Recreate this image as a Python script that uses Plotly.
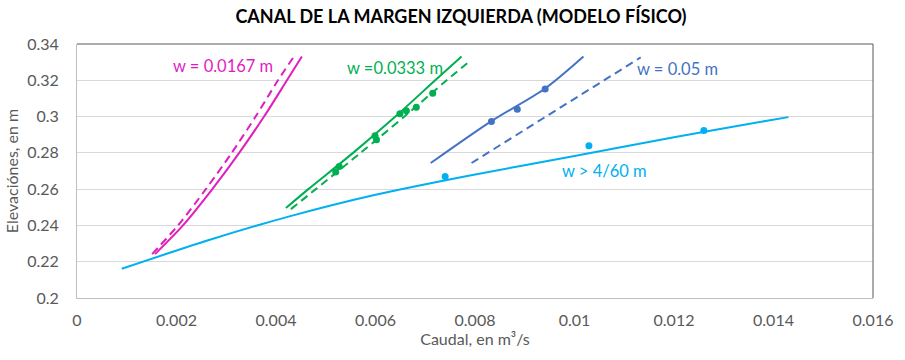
import plotly.graph_objects as go

# ---- data ----
# w = 0.0167 m (magenta)
q_0167_solid = [0.00157, 0.00213, 0.00272, 0.00326, 0.00376, 0.00422, 0.00452]
h_0167_solid = [0.2242, 0.24, 0.26, 0.28, 0.30, 0.32, 0.3331]
q_0167_dash = [0.00151, 0.00203, 0.00259, 0.00311, 0.00359, 0.00404, 0.00436]
h_0167_dash = [0.2242, 0.24, 0.26, 0.28, 0.30, 0.32, 0.3331]

# w = 0.0333 m (green)
q_0333_solid = [0.00420, 0.00465, 0.00555, 0.00640, 0.00720, 0.00773]
h_0333_solid = [0.2496, 0.26, 0.28, 0.30, 0.32, 0.3331]
q_0333_dash = [0.00430, 0.00480, 0.00570, 0.00658, 0.00743, 0.00791]
h_0333_dash = [0.2490, 0.26, 0.28, 0.30, 0.32, 0.3309]
q_0333_pts = [0.00527, 0.00520, 0.00599, 0.00602, 0.00649, 0.00662, 0.00682, 0.00715]
h_0333_pts = [0.2725, 0.2694, 0.2894, 0.2872, 0.3015, 0.3032, 0.3052, 0.3129]

# w = 0.05 m (blue)
q_05_solid = [0.00711, 0.00833, 0.00941, 0.01018]
h_05_solid = [0.2744, 0.2975, 0.3155, 0.3331]
q_05_dash = [0.00793, 0.01133]
h_05_dash = [0.2744, 0.3326]
q_05_pts = [0.00833, 0.00885, 0.00941]
h_05_pts = [0.2973, 0.3041, 0.3152]

# w > 4/60 m (light blue)
q_460_line = [0.00090, 0.00267, 0.00427, 0.00600, 0.00787, 0.01000, 0.01200, 0.01387, 0.01430]
h_460_line = [0.2161, 0.2321, 0.2450, 0.2569, 0.2674, 0.2783, 0.2886, 0.2977, 0.2997]
q_460_pts = [0.00740, 0.01029, 0.01260]
h_460_pts = [0.2670, 0.2839, 0.2923]

x_tickvals = [0, 0.002, 0.004, 0.006, 0.008, 0.010, 0.012, 0.014, 0.016]
x_ticktext = ["0", "0.002", "0.004", "0.006", "0.008", "0.01", "0.012", "0.014", "0.016"]
y_tickvals = [0.20, 0.22, 0.24, 0.26, 0.28, 0.30, 0.32, 0.34]
y_ticktext = ["0.2", "0.22", "0.24", "0.26", "0.28", "0.3", "0.32", "0.34"]

labels = ["w = 0.0167 m", "w =0.0333 m", "w = 0.05 m", "w > 4/60 m"]
label_x = [0.00293, 0.00639, 0.01208, 0.01061]
label_y = [0.3280, 0.3269, 0.3264, 0.2698]

MAG = "#E01EBF"
GRN = "#00B050"
BLU = "#4472C4"
CYN = "#00B0F0"
colors = [MAG, GRN, BLU, CYN]

FONT = "Lato, 'Open Sans', sans-serif"
DASH = "8px,5px"

fig = go.Figure()


def line(x, y, color, dash=None, shape="spline"):
    fig.add_trace(go.Scatter(x=x, y=y, mode="lines",
                             line=dict(color=color, width=2, dash=dash, shape=shape, smoothing=0.8),
                             showlegend=False, hoverinfo="skip"))


def pts(x, y, color):
    fig.add_trace(go.Scatter(x=x, y=y, mode="markers", marker=dict(color=color, size=7),
                             showlegend=False, hoverinfo="skip"))


line(q_460_line, h_460_line, CYN)
pts(q_460_pts, h_460_pts, CYN)
line(q_0167_solid, h_0167_solid, MAG)
line(q_0167_dash, h_0167_dash, MAG, DASH)
line(q_0333_solid, h_0333_solid, GRN)
line(q_0333_dash, h_0333_dash, GRN, DASH)
pts(q_0333_pts, h_0333_pts, GRN)
line(q_05_solid, h_05_solid, BLU)
line(q_05_dash, h_05_dash, BLU, DASH, "linear")
pts(q_05_pts, h_05_pts, BLU)

for t, x, y, c in zip(labels, label_x, label_y, colors):
    fig.add_annotation(x=x, y=y, text=t, showarrow=False, xanchor="center", yanchor="middle",
                       font=dict(family=FONT, size=16.5, color=c))

# plot-area border (top / right)
fig.add_shape(type="line", xref="x domain", yref="y domain", x0=0, x1=1, y0=1, y1=1,
              line=dict(color="#595959", width=1))
fig.add_shape(type="line", xref="x domain", yref="y domain", x0=1, x1=1, y0=0, y1=1,
              line=dict(color="#595959", width=1))

fig.update_layout(
    width=905, height=360,
    margin=dict(l=77, r=27, t=44, b=62),
    paper_bgcolor="white", plot_bgcolor="white",
    font=dict(family=FONT, color="#595959"),
    title=dict(text="<b>CANAL DE LA MARGEN IZQUIERDA (MODELO FÍSICO)</b>",
               x=461 / 905, xanchor="center", y=1 - 17 / 360, yanchor="middle",
               font=dict(family=FONT, size=18, color="#000000")),
    xaxis=dict(range=[0, 0.016], tickvals=x_tickvals, ticktext=x_ticktext,
               showgrid=False, zeroline=False, showline=True, linecolor="#bfbfbf", linewidth=1,
               ticks="", tickfont=dict(family=FONT, size=16, color="#595959"), ticklabelstandoff=8,
               title=dict(text="Caudal, en m³/s", font=dict(family=FONT, size=16, color="#595959"), standoff=1)),
    yaxis=dict(range=[0.2, 0.34], tickvals=y_tickvals, ticktext=y_ticktext,
               showgrid=True, gridcolor="#d9d9d9", gridwidth=1, zeroline=False,
               showline=True, linecolor="#bfbfbf", linewidth=1,
               ticks="", tickfont=dict(family=FONT, size=16, color="#595959"), ticklabelstandoff=14,
               title=dict(text="Elevaciónes, en m", font=dict(family=FONT, size=16, color="#595959"), standoff=4)),
)

fig.write_html("out.html")
